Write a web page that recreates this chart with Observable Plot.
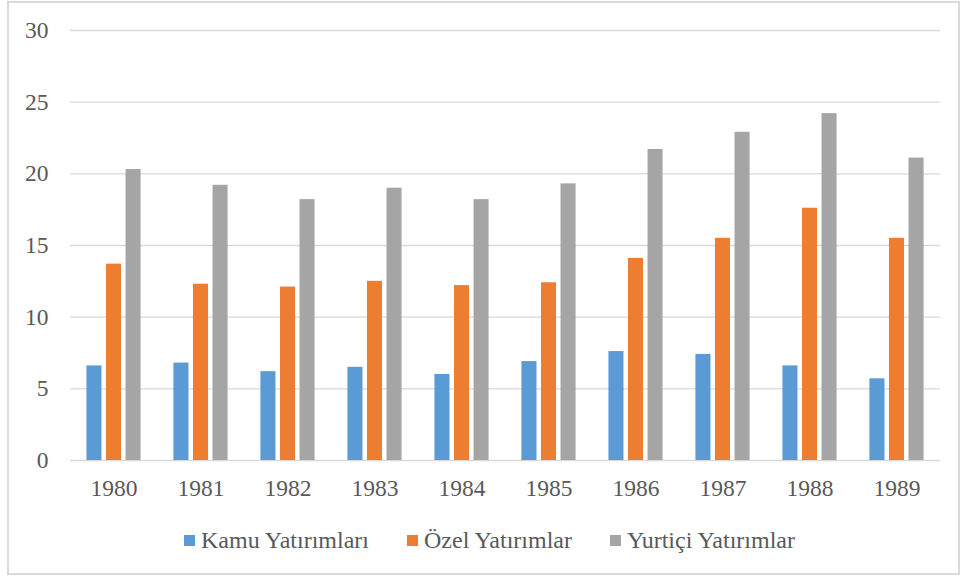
<!DOCTYPE html>
<html>
<head>
<meta charset="utf-8">
<script src="https://cdn.jsdelivr.net/npm/d3@7"></script>
<script src="https://cdn.jsdelivr.net/npm/@observablehq/plot@0.6"></script>
<style>
  html, body { margin: 0; padding: 0; background: #fff; }
  #wrap { position: relative; width: 964px; height: 578px; overflow: hidden; font-family: "Liberation Serif", "Times New Roman", "DejaVu Serif", serif; }
  #frame { position: absolute; left: 7px; top: 1px; width: 953px; height: 574px; border: 2px solid #d9d9d9; box-sizing: border-box; }
  #chart { position: absolute; left: 0; top: 0; }
  #legend { position: absolute; left: 0; top: 527px; width: 964px; height: 30px; font-family: "Liberation Serif", serif; font-size: 24px; color: #595959; }
  .item { position: absolute; top: 0; display: flex; align-items: center; gap: 6px; white-space: nowrap; }
  .item:nth-child(1) { left: 184px; }
  .item:nth-child(2) { left: 407px; }
  .item:nth-child(3) { left: 610px; }
  .sw { width: 11px; height: 11px; display: inline-block; }
</style>
</head>
<body>
<div id="wrap">
  <div id="frame"></div>
  <div id="chart"></div>
  <div id="legend"></div>
</div>
<script>
const years = ["1980","1981","1982","1983","1984","1985","1986","1987","1988","1989"];
const seriesNames = ["Kamu Yatırımları", "Özel Yatırımlar", "Yurtiçi Yatırımlar"];
const seriesColors = ["#5B9BD5", "#ED7D31", "#A5A5A5"];
const kamu    = [6.6, 6.8, 6.2, 6.5, 6.0, 6.9, 7.6, 7.4, 6.6, 5.7];
const ozel    = [13.7, 12.3, 12.1, 12.5, 12.2, 12.4, 14.1, 15.5, 17.6, 15.5];
const yurtici = [20.3, 19.2, 18.2, 19.0, 18.2, 19.3, 21.7, 22.9, 24.2, 21.1];
const yTicks = [0, 5, 10, 15, 20, 25, 30];

const values = [kamu, ozel, yurtici];
const data = years.flatMap((year, i) =>
  seriesNames.map((s, j) => ({year, series: s, value: values[j][i]}))
);

const chart = Plot.plot({
  width: 964,
  height: 510,
  marginTop: 30,
  marginBottom: 50,
  marginLeft: 70,
  marginRight: 24,
  style: {fontFamily: "'Liberation Serif', 'Times New Roman', serif", fontSize: "23.5px", color: "#595959", background: "transparent", overflow: "visible"},
  facet: {data, x: "year"},
  fx: {domain: years, padding: 0, round: false, label: null, tickSize: 0, tickPadding: 19, axis: "bottom"},
  x: {domain: seriesNames, axis: null, round: false, paddingInner: 0.23, paddingOuter: 0.84},
  y: {domain: [0, 30], ticks: yTicks, tickSize: 0, tickPadding: 22, label: null},
  color: {domain: seriesNames, range: seriesColors},
  marks: [
    Plot.ruleY(yTicks, {stroke: "#d9d9d9", strokeWidth: 1.3}),
    Plot.barY(data, {x: "series", y: "value", fill: "series"})
  ]
});
document.getElementById("chart").appendChild(chart);

const legend = document.getElementById("legend");
seriesNames.forEach((s, i) => {
  const item = document.createElement("div");
  item.className = "item";
  const sw = document.createElement("span");
  sw.className = "sw";
  sw.style.background = seriesColors[i];
  const t = document.createElement("span");
  t.textContent = s;
  item.appendChild(sw);
  item.appendChild(t);
  legend.appendChild(item);
});
</script>
</body>
</html>
